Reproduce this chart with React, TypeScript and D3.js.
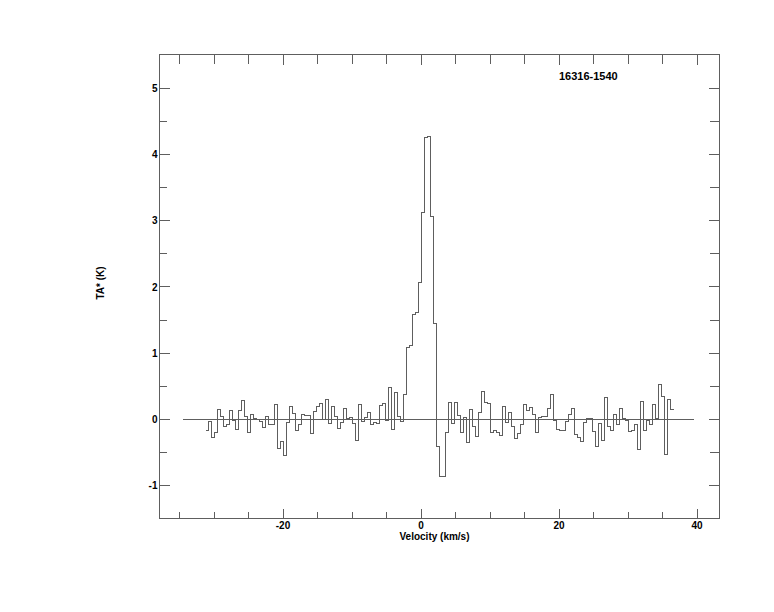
import React from "react";
import * as d3 from "d3";

// Spectrum: antenna temperature per channel (K)
const channelStart = -31.23; // km/s, left edge of first channel
const channelWidth = 0.43478; // km/s
const taValues: number[] = [
  -0.17, -0.03, -0.27, -0.2, 0.15, 0.05, -0.11, -0.07, 0.14, -0.01,
  -0.15, 0.14, 0.29, 0.04, -0.2, 0.08, 0.02, 0.0, -0.03, -0.12,
  0.05, -0.07, -0.08, 0.23, -0.43, -0.33, -0.54, -0.05, 0.2, 0.09,
  -0.16, -0.08, 0.07, 0.06, 0.06, -0.21, 0.12, 0.19, 0.24, 0.0,
  0.3, -0.06, 0.19, 0.05, -0.14, -0.05, 0.16, 0.01,
  0.03, -0.06, -0.31, 0.23, -0.03, 0.03, 0.11, -0.08, -0.05, -0.06,
  0.21, 0.24, -0.02, 0.48, -0.15, 0.41, 0.04, -0.03, 0.38, 1.08,
  1.12, 1.59, 1.62, 2.07, 3.13, 4.25, 4.27, 3.06, 1.45, -0.41,
  -0.86, -0.86, -0.19, 0.26, -0.06, 0.25, 0.06,
  -0.19, 0.03, -0.35, 0.15, -0.1, -0.25, 0.11, 0.42, 0.26, 0.24,
  -0.2, -0.16, -0.2, -0.24, 0.2, -0.04, 0.11, -0.11, -0.29, -0.21,
  -0.07,
  0.23, 0.14, 0.18, 0.07, -0.19, 0.03, 0.04, 0.05, 0.16, 0.38,
  -0.02, -0.15, -0.17, -0.17, -0.03, 0.08, 0.17, -0.23, -0.27, -0.33,
  -0.04, 0.02, 0.02, -0.18, -0.4, -0.06, -0.31, 0.33, -0.11, -0.16,
  0.08, -0.08, 0.17, 0.02, -0.01, -0.18, -0.16, -0.08, -0.46, 0.27,
  -0.17, -0.01, -0.07, 0.22, 0.02, 0.53, 0.34, -0.53, 0.3, 0.15,
];

const xMajorTicks = [-20, 0, 20, 40];
const xMinorTicks = [-35, -30, -25, -20, -15, -10, -5, 0, 5, 10, 15, 20, 25, 30, 35, 40];
const yMajorTicks = [-1, 0, 1, 2, 3, 4, 5];
const yMinorTicks = [-0.5, 0.5, 1.5, 2.5, 3.5, 4.5];
const baselineRange = [-34.5, 39.6];
const sourceName = "16316-1540";
const xTitle = "Velocity (km/s)";
const yTitle = "TA* (K)";

const W = 774;
const H = 612;
const L = 159.5, R = 719.5, T = 54.5, B = 518.5;

export default function App() {
  const x = d3.scaleLinear().domain([(L - 421) / 6.9, (R - 421) / 6.9]).range([L, R]);
  const y = d3.scaleLinear().domain([(419.5 - B) / 66.28, (419.5 - T) / 66.28]).range([B, T]);
  const px = (v: number) => Math.floor(x(v)) + 0.5;
  const py = (v: number) => Math.floor(y(v)) + 0.5;

  const pts: [number, number][] = taValues.map((t, i) => [channelStart + i * channelWidth, t]);
  pts.push([channelStart + taValues.length * channelWidth, taValues[taValues.length - 1]]);
  const line = d3
    .line<[number, number]>()
    .x((d) => x(d[0]))
    .y((d) => y(d[1]))
    .curve(d3.curveStepAfter);

  const stroke = "#5e5e5e";
  const font = "'Liberation Sans', Arial, Helvetica, sans-serif";

  return (
    <svg
      width={W}
      height={H}
      style={{ position: "absolute", left: 0, top: 0, background: "#fff" }}
      fontFamily={font}
    >
      <rect x={0} y={0} width={W} height={H} fill="#fff" />
      <g stroke={stroke} strokeWidth={1} shapeRendering="crispEdges" fill="none">
        <rect x={L} y={T} width={R - L} height={B - T} />
        {xMinorTicks.map((v) => {
          const major = xMajorTicks.includes(v);
          return (
            <g key={"xt" + v}>
              <line x1={px(v)} x2={px(v)} y1={B} y2={B - (major ? 10 : 7)} />
              <line x1={px(v)} x2={px(v)} y1={T} y2={T + (major ? 10 : 9)} />
            </g>
          );
        })}
        {yMajorTicks.map((v) => (
          <g key={"yM" + v}>
            <line x1={L} x2={L + 10} y1={py(v)} y2={py(v)} />
            <line x1={R} x2={R - 11} y1={py(v)} y2={py(v)} />
          </g>
        ))}
        {yMinorTicks.map((v) => (
          <g key={"ym" + v}>
            <line x1={L} x2={L + 7} y1={py(v)} y2={py(v)} />
            <line x1={R} x2={R - 10} y1={py(v)} y2={py(v)} />
          </g>
        ))}
        <line x1={x(baselineRange[0])} x2={x(baselineRange[1])} y1={py(0)} y2={py(0)} />
        <path d={line(pts) || ""} />
      </g>
      <g fontSize={10} fontWeight="bold" fill="#000">
        {yMajorTicks.map((v) => (
          <text key={"yl" + v} x={157.5} y={y(v) + 3.7} textAnchor="end">
            {v}
          </text>
        ))}
        {xMajorTicks.map((v) => (
          <text key={"xl" + v} x={x(v)} y={529.3} textAnchor="middle">
            {v}
          </text>
        ))}
        <text x={434.5} y={539.6} textAnchor="middle">
          {xTitle}
        </text>
        <text transform="translate(103.5,283) rotate(-90)" textAnchor="middle">
          {yTitle}
        </text>
        <text x={588.3} y={79.6} textAnchor="middle" fontSize={11}>
          {sourceName}
        </text>
      </g>
    </svg>
  );
}
